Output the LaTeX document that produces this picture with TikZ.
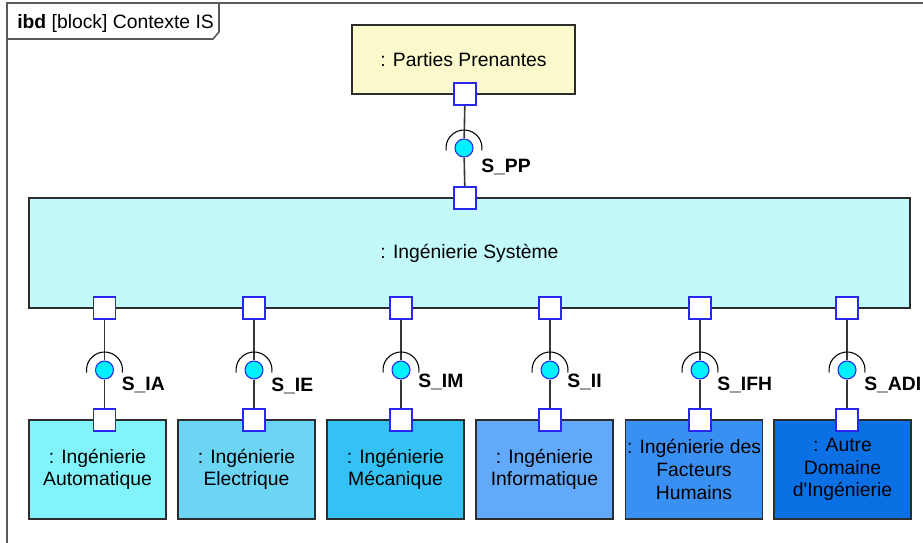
\documentclass[tikz,border=0pt]{standalone}
\usepackage{fontspec}
\setmainfont{Liberation Sans}[Ligatures=TeXOff]
\definecolor{ppfill}{RGB}{250,250,204}
\definecolor{isfill}{RGB}{196,249,252}
\definecolor{fa}{RGB}{128,244,250}
\definecolor{fb}{RGB}{108,213,244}
\definecolor{fc}{RGB}{52,193,244}
\definecolor{fd}{RGB}{98,169,250}
\definecolor{fe}{RGB}{58,143,242}
\definecolor{ff}{RGB}{10,112,228}
\definecolor{portblue}{RGB}{40,40,240}
\definecolor{ballfill}{RGB}{0,240,255}
\definecolor{edgegray}{RGB}{45,45,45}
\definecolor{linegray}{RGB}{55,55,55}
\definecolor{framegray}{RGB}{90,90,90}
\tikzset{
  blockbox/.style={draw=edgegray, line width=1.1pt, align=center, inner sep=1pt},
  portbox/.style={draw=portblue, line width=1.1pt, fill=white, minimum size=16.5pt, inner sep=0pt},
  ball/.style={circle, draw=portblue, line width=0.8pt, fill=ballfill, minimum size=13.5pt, inner sep=0pt},
  conn/.style={draw=linegray, line width=1.2pt},
  sockarc/.style={draw=black, line width=0.8pt},
  ifacelabel/.style={anchor=west, font=\fontsize{14.5}{16}\selectfont\bfseries, inner sep=0pt},
  framebox/.style={draw=framegray, line width=1.2pt}
}
\begin{document}
\begin{tikzpicture}[x=0.75pt,y=-0.75pt,font=\fontsize{14.5}{16.9}\selectfont]
\useasboundingbox (0,0) rectangle (923,542);
\clip (0,0) rectangle (923,542);
% frame
\draw[framebox] (7,560) -- (7,3) -- (940,3);
\draw[framebox] (7,39) -- (213,39) -- (219,32) -- (219,3);
\node[anchor=west, inner sep=0pt] (title) at (17,24) {\textbf{ibd} [block] Contexte IS};
% main blocks
\node[blockbox, fill=ppfill, minimum width=167.25pt, minimum height=51.75pt] (pp) at (463.5,59.5) {: Parties Prenantes};
\node[blockbox, fill=isfill, minimum width=660.75pt, minimum height=82.5pt] (is) at (469.5,253) {: Ingénierie Système};
% top interface
\node[portbox] (ppport) at (465,94) {};
\node[portbox] (isport) at (465,198) {};
\node[ball] (spp) at (464,148) {};
\draw[conn] (ppport) -- (spp);
\draw[conn] (spp) -- (isport);
\draw[sockarc] ([shift={(-8:13.5pt)}]spp.center) arc[start angle=-8, end angle=188, radius=13.5pt];
\node[ifacelabel] (lpp) at (481,167) {S\_PP};
% bottom blocks
\node[blockbox, fill=fa, minimum width=102.75pt, minimum height=74.25pt] (ba) at (97.5,469.5) {: Ingénierie\\Automatique};
\node[blockbox, fill=fb, minimum width=102.75pt, minimum height=74.25pt] (bb) at (246.5,469.5) {: Ingénierie\\Electrique};
\node[blockbox, fill=fc, minimum width=102.75pt, minimum height=74.25pt] (bc) at (395.5,469.5) {: Ingénierie\\Mécanique};
\node[blockbox, fill=fd, minimum width=102.75pt, minimum height=74.25pt] (bd) at (544.5,469.5) {: Ingénierie\\Informatique};
\node[blockbox, fill=fe, minimum width=102.75pt, minimum height=74.25pt] (be) at (694,469.5) {: Ingénierie des\\Facteurs\\Humains};
\node[blockbox, fill=ff, minimum width=102.75pt, minimum height=74.25pt] (bf) at (842.5,469.5) {: Autre\\Domaine\\d'Ingénierie};
% bottom interfaces
\foreach \n/\x/\ly/\lab in {a/104.5/385/S\_IA, b/254/386/S\_IE, c/401/382/S\_IM, d/550/382/S\_II, e/700/385/S\_IFH, f/847/385/S\_ADI}{
  \node[portbox] (up\n) at (\x,308) {};
  \node[portbox] (lo\n) at (\x,420) {};
  \node[ball] (c\n) at (\x,370) {};
  \draw[conn] (up\n) -- (c\n);
  \draw[conn] (c\n) -- (lo\n);
  \draw[sockarc] ([shift={(-8:13.5pt)}]c\n.center) arc[start angle=-8, end angle=188, radius=13.5pt];
  \node[ifacelabel] (l\n) at (\x+17,\ly) {\lab};
}
\end{tikzpicture}
\end{document}
